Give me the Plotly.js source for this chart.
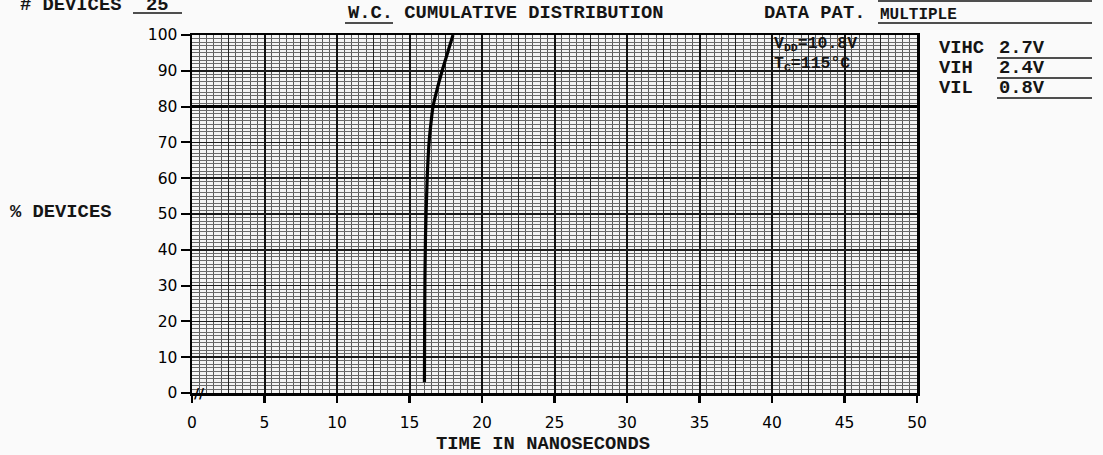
<!DOCTYPE html>
<html>
<head>
<meta charset="utf-8">
<script src="https://cdn.plot.ly/plotly-3.0.1.min.js"></script>
<style>
  html, body { margin: 0; padding: 0; background: #fafafa; }
  #chart { width: 1103px; height: 455px; }
</style>
</head>
<body>
<div id="chart"></div>
<script>
// ---- data ----
const timeNs = [16.03, 16.05, 16.1, 16.22, 16.35, 16.47, 16.62, 16.85, 17.25, 17.7, 18.0];
const pctDevices = [3, 24, 43, 60, 70, 75, 80, 84, 90, 96, 100];

const xTickVals = [0, 5, 10, 15, 20, 25, 30, 35, 40, 45, 50];
const yTickVals = [0, 10, 20, 30, 40, 50, 60, 70, 80, 90, 100];
const heavyYLines = [80];

const headerDevices = "25";
const chartTitle = "CUMULATIVE DISTRIBUTION";
const titlePrefix = "W.C.";
const dataPattern = "MULTIPLE";
const voltLabels = ["VIHC", "VIH", "VIL"];
const voltValues = ["2.7V", "2.4V", "0.8V"];
const conditions = ["V<sub>DD</sub>=10.8V", "T<sub>C</sub>=115°C"];

// ---- layout helpers (pixel -> paper coords of plot area) ----
const W = 1103, H = 455;
const L = 192, R = 917, T = 35, B = 393;
const px = x => (x - L) / (R - L);
const py = y => (B - y) / (B - T);

const MONO = "Liberation Mono, Courier New, monospace";
const ink = "#151515";

function ann(text, x, y, opts) {
  return Object.assign({
    text: text, xref: "paper", yref: "paper", x: px(x), y: py(y),
    xanchor: "left", yanchor: "middle", showarrow: false,
    font: { family: MONO, size: 18.8, color: ink, weight: "bold" }
  }, opts || {});
}
function uline(x0, x1, y, w) {
  return { type: "line", xref: "paper", yref: "paper",
    x0: px(x0), x1: px(x1), y0: py(y), y1: py(y),
    line: { color: ink, width: w || 1.6 } };
}

const annotations = [
  ann("# DEVICES", 18, 5),
  ann(headerDevices, 157, 5, { xanchor: "center" }),
  ann(titlePrefix + " " + chartTitle, 346, 13),
  ann("DATA PAT.", 762, 13),
  ann(dataPattern, 878, 15, { font: { family: MONO, size: 16, color: ink, weight: "bold" } }),
  ann("% DEVICES", 8, 212),
  ann("TIME IN NANOSECONDS", 543, 444, { xanchor: "center" }),
  ann(conditions[0], 772, 44, { font: { family: MONO, size: 16.5, color: ink, weight: "bold" } }),
  ann(conditions[1], 772, 64, { font: { family: MONO, size: 16.5, color: ink, weight: "bold" } }),
  ann("//", 199, 393, { xanchor: "center", font: { family: "DejaVu Sans, sans-serif", size: 14, color: "#000", weight: "bold" } })
];
const vy = [48, 68, 88];
voltLabels.forEach((lab, i) => {
  annotations.push(ann(lab, 937, vy[i]));
  annotations.push(ann(voltValues[i], 997, vy[i]));
});

const shapes = [
  uline(133, 182, 13),
  uline(345, 393, 23),
  uline(878, 1092, 23),
  uline(878, 1092, 1),
  uline(997, 1092, vy[0] + 10),
  uline(997, 1092, vy[1] + 10),
  uline(997, 1092, vy[2] + 10)
];

const trace = {
  x: timeNs, y: pctDevices, type: "scatter", mode: "lines",
  line: { color: "#000", width: 3.2, shape: "spline", smoothing: 0.8 },
  hoverinfo: "skip", showlegend: false
};

const tickFont = { family: "DejaVu Sans, sans-serif", size: 15.5, color: "#000" };

const layout = {
  width: W, height: H,
  margin: { l: L, r: W - R, t: T, b: H - B, pad: 0 },
  paper_bgcolor: "#fafafa",
  plot_bgcolor: "#f4f4f4",
  showlegend: false,
  xaxis: {
    range: [0, 50], tickvals: xTickVals, ticktext: xTickVals.map(String),
    showgrid: true, gridcolor: "#111", gridwidth: 2,
    showline: true, linecolor: "#000", linewidth: 2.5, mirror: true,
    ticks: "outside", ticklen: 7, tickwidth: 2.5, tickcolor: "#000",
    ticklabelstandoff: 7,
    tickfont: tickFont, zeroline: false, fixedrange: true,
    minor: { dtick: 0.5, showgrid: true, gridcolor: "#5a5a5a", gridwidth: 1, ticks: "" }
  },
  xaxis2: {
    overlaying: "x", range: [0, 50], tick0: 2.5, dtick: 5,
    showgrid: true, gridcolor: "#222", gridwidth: 1.4,
    showticklabels: false, ticks: "", showline: false, zeroline: false, fixedrange: true
  },
  yaxis: {
    range: [0, 100], tickvals: yTickVals, ticktext: yTickVals.map(String),
    showgrid: true, gridcolor: "#1a1a1a", gridwidth: 1.5,
    showline: true, linecolor: "#000", linewidth: 2.5, mirror: true,
    ticks: "outside", ticklen: 9, tickwidth: 2, tickcolor: "#000",
    ticklabelstandoff: 0,
    tickfont: tickFont, zeroline: false, fixedrange: true,
    minor: { dtick: 1, showgrid: true, gridcolor: "#6a6a6a", gridwidth: 1, ticks: "" }
  },
  yaxis2: {
    overlaying: "y", range: [0, 100], tickvals: heavyYLines,
    showgrid: true, gridcolor: "#000", gridwidth: 2.6,
    showticklabels: false, ticks: "", showline: false, zeroline: false, fixedrange: true
  },
  annotations: annotations,
  shapes: shapes
};

const helperX = { x: [0], y: [0], xaxis: "x2", yaxis: "y", mode: "markers",
  marker: { opacity: 0 }, hoverinfo: "skip", showlegend: false };
const helperY = { x: [0], y: [0], xaxis: "x", yaxis: "y2", mode: "markers",
  marker: { opacity: 0 }, hoverinfo: "skip", showlegend: false };

Plotly.newPlot("chart", [helperX, helperY, trace], layout, { displayModeBar: false, staticPlot: true });
</script>
</body>
</html>
